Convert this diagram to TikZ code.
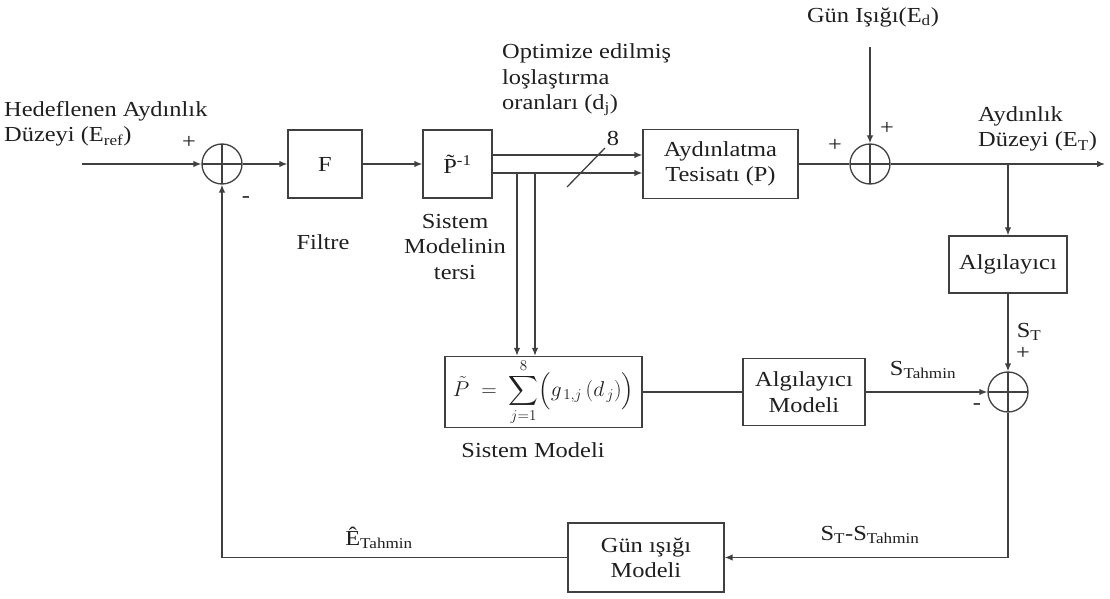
\documentclass[tikz,border=0pt]{standalone}
\usepackage{fix-cm}
\usepackage{exscale}
\usepackage{amsmath}
\usepackage{fontspec}
\setmainfont{Liberation Serif}[FakeStretch=1.14]
\usetikzlibrary{arrows.meta}
\begin{document}
\begin{tikzpicture}[x=1bp,y=-1bp,
  font=\fontsize{21.5}{25.5}\selectfont,
  every node/.style={text=black!88, inner sep=0pt},
  ln/.style={draw=black!75, line width=1.3bp},
  arr/.style={ln, -{Latex[length=8bp,width=6.5bp]}},
  blk/.style={draw=black!75, line width=1.3bp, rectangle, inner sep=2bp, align=center},
  sumj/.style={circle, draw=black!75, line width=1.3bp, minimum size=40bp, inner sep=0pt,
    path picture={\draw[black!75, line width=1.3bp] (path picture bounding box.north) -- (path picture bounding box.south)
      (path picture bounding box.west) -- (path picture bounding box.east);}},
  lbl/.style={align=center},
  lbll/.style={align=left, anchor=west}
]
\useasboundingbox (0,0) rectangle (1110,599);
% blocks
\node[blk, minimum width=74bp, minimum height=68bp] (F) at (325,164) {F};
\node[blk, minimum width=69bp, minimum height=68bp] (P) at (457.5,164) {\~{P}\textsuperscript{-1}};
\node[blk, minimum width=155bp, minimum height=69bp] (Ayd) at (720.5,164) {Aydınlatma\\Tesisatı (P)};
\node[blk, minimum width=118bp, minimum height=57bp] (Alg) at (1008,264.5) {Algılayıcı};
\node[blk, minimum width=197bp, minimum height=68bp] (SM) at (543.5,392) {$\displaystyle \tilde{P} \;=\; \sum_{j=1}^{8}\Bigl(g_{\,1,j}\,(d_{\,j})\Bigr)$};
\node[blk, minimum width=122bp, minimum height=67bp] (AM) at (804,392) {Algılayıcı\\Modeli};
\node[blk, minimum width=156bp, minimum height=69bp] (GM) at (646,557.5) {Gün ışığı\\Modeli};
% summing junctions
\node[sumj] (s1) at (222,164) {};
\node[sumj] (s2) at (870,164) {};
\node[sumj] (s3) at (1008,392) {};
% free-end coordinates
\coordinate (in) at (82,164);
\coordinate (ya) at (0,155);
\coordinate (yb) at (0,173);
\coordinate (t1) at (517,173);
\coordinate (t2) at (535,173);
\coordinate (ed) at (870,47);
\coordinate (out) at (1105,164);
\coordinate (br) at (1008,164);
\coordinate (sl1) at (567,187);
\coordinate (sl2) at (605,148);
% connectors
\draw[arr] (in) -- (s1.west);
\draw[arr] (s1.east) -- (F.west);
\draw[arr] (F.east) -- (P.west);
\draw[arr] (P.east |- ya) -- (Ayd.west |- ya);
\draw[arr] (P.east |- yb) -- (Ayd.west |- yb);
\draw[arr] (t1) -- (t1 |- SM.north);
\draw[arr] (t2) -- (t2 |- SM.north);
\draw[ln] (sl1) -- (sl2);
\draw[ln] (Ayd.east) -- (s2.west);
\draw[arr] (ed) -- (s2.north);
\draw[arr] (s2.east) -- (out);
\draw[arr] (br) -- (Alg.north);
\draw[arr] (Alg.south) -- (s3.north);
\draw[ln] (SM.east) -- (AM.west);
\draw[arr] (AM.east) -- (s3.west);
\draw[arr] (s3.south) |- (GM.east);
\draw[arr] (GM.west) -| (s1.south);
% labels
\node[lbll] (lref) at (4,124) {Hedeflenen Aydınlık\\Düzeyi (E\textsubscript{ref})};
\node (p1) at (189,142) {+};
\node (m1) at (246,200) {-};
\node[lbl] (lfil) at (323,242) {Filtre};
\node[lbl] (lsmt) at (455,247) {Sistem\\Modelinin\\tersi};
\node[lbll] (lopt) at (502,80) {Optimize edilmiş\\loşlaştırma\\oranları (d\textsubscript{j})};
\node (l8) at (613,138) {8};
\node (p2) at (835,145) {+};
\node (p3) at (887,128) {+};
\node (led) at (873,17) {Gün Işığı(E\textsubscript{d})};
\node[lbll] (let) at (978,129) {Aydınlık\\Düzeyi (E\textsubscript{T})};
\node (lst) at (1029,332) {S\textsubscript{T}};
\node (p4) at (1023,353) {+};
\node (m4) at (977,407) {-};
\node (lsth) at (923,370) {S\textsubscript{Tahmin}};
\node (lsm) at (533,450) {Sistem Modeli};
\node (leh) at (379,538) {\^{E}\textsubscript{Tahmin}};
\node (ldiff) at (870,535) {S\textsubscript{T}-S\textsubscript{Tahmin}};
\end{tikzpicture}
\end{document}
